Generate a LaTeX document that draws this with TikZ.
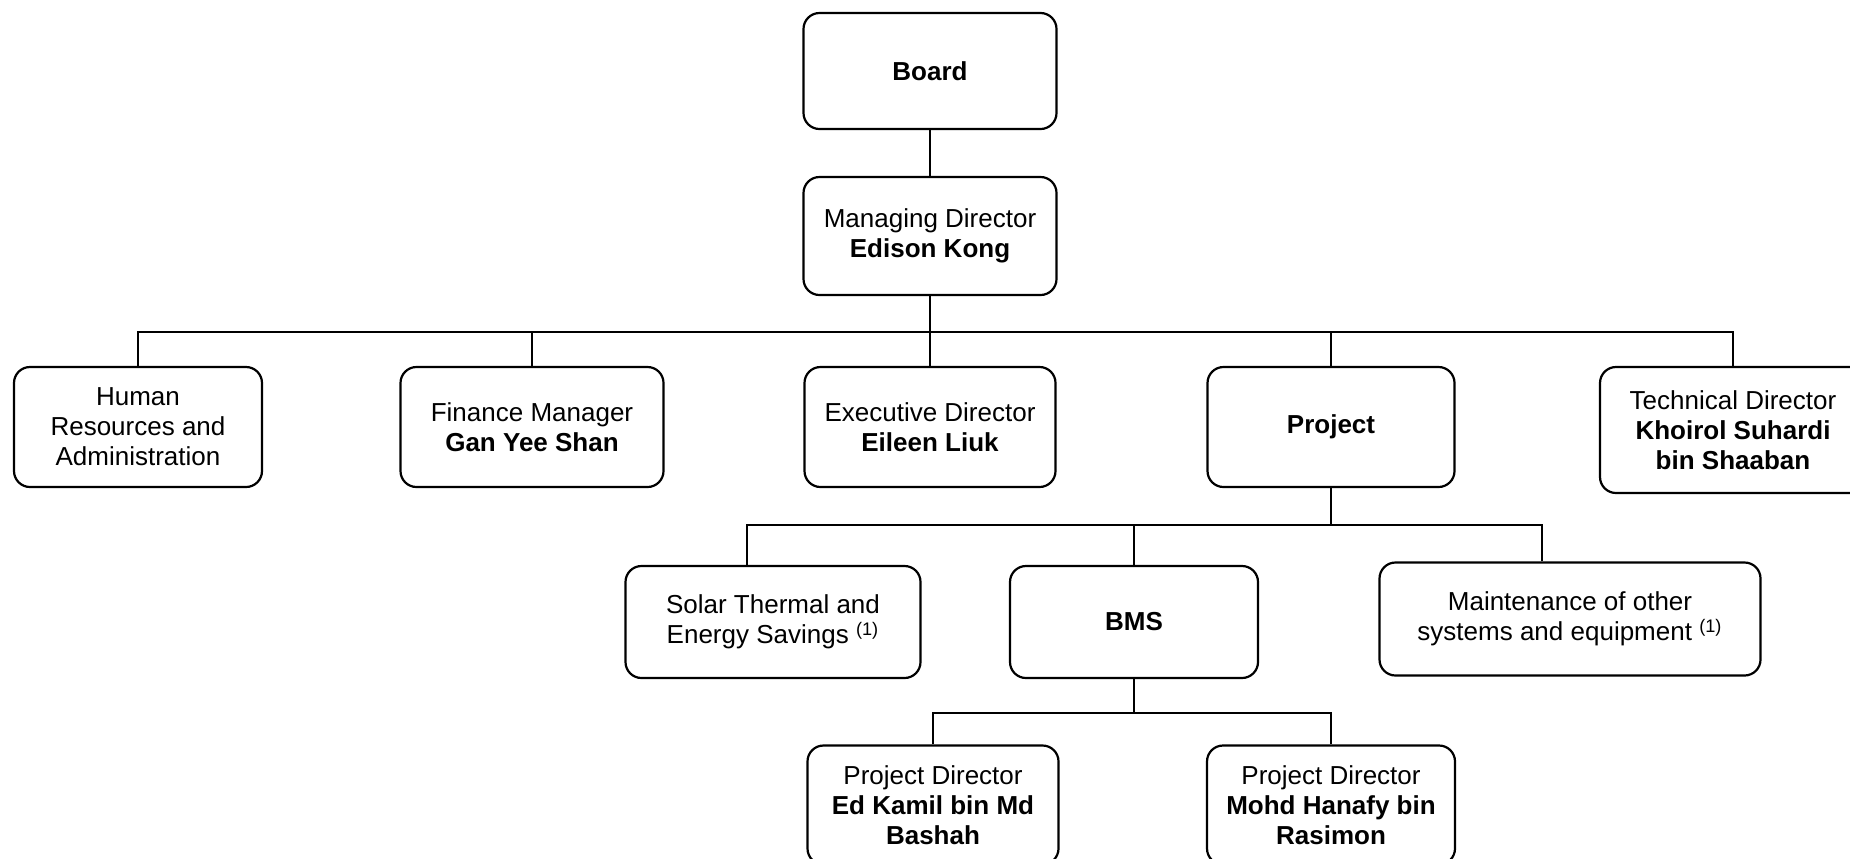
\documentclass[tikz,border=0pt]{standalone}
\usepackage{fontspec}
\setmainfont{Liberation Sans}
\usetikzlibrary{positioning}

\begin{document}
\begin{tikzpicture}[
    x=0.5pt, y=-0.5pt,
    font=\fontsize{13}{15}\selectfont,
    box/.style={rectangle, draw, line width=1.1pt, rounded corners=8pt, align=center, minimum width=126pt, minimum height=60pt, inner sep=2pt},
    link/.style={line width=1pt}
    ]
    \useasboundingbox (0,0) rectangle (1850,858);
    \node[box, minimum width=126.5pt, minimum height=58pt] (board) at (930,71) {\textbf{Board}};
    \node[box, minimum width=126.5pt, minimum height=59pt] (md) at (930,236) {Managing Director\\\textbf{Edison Kong}};

    \node[box, minimum width=124pt] (hr) at (138,427) {Human\\Resources and\\Administration};
    \node[box, minimum width=131.5pt] (fin) at (532,427) {Finance Manager\\\textbf{Gan Yee Shan}};
    \node[box, minimum width=125.5pt] (exec) at (930,427) {Executive Director\\\textbf{Eileen Liuk}};
    \node[box, minimum width=123.5pt] (proj) at (1331,427) {\textbf{Project}};
    \node[box, minimum width=133pt, minimum height=63pt] (tech) at (1733,430) {Technical Director\\\textbf{Khoirol Suhardi}\\\textbf{bin Shaaban}};

    \node[box, minimum width=147.5pt, minimum height=56pt] (solar) at (773,622) {Solar Thermal and\\Energy Savings \textsuperscript{(1)}};
    \node[box, minimum width=124pt, minimum height=56pt] (bms) at (1134,622) {\textbf{BMS}};
    \node[box, minimum width=190.5pt, minimum height=56.5pt] (maint) at (1570,619) {Maintenance of other\\systems and equipment \textsuperscript{(1)}};

    \node[box, minimum width=125.5pt, minimum height=59.5pt] (pda) at (933,805) {Project Director\\\textbf{Ed Kamil bin Md}\\\textbf{Bashah}};
    \node[box, minimum width=124pt, minimum height=59.5pt] (pdb) at (1331,805) {Project Director\\\textbf{Mohd Hanafy bin}\\\textbf{Rasimon}};

    \coordinate (bus1) at (930,332);
    \coordinate (bus2) at (1331,525);
    \coordinate (bus3) at (1134,713);

    \draw[link] (board) -- (md);
    \draw[link] (md) -- (bus1);
    \foreach \n in {hr,fin,exec,proj,tech}
        \draw[link] (\n.north) |- (bus1);
    \draw[link] (proj) -- (bus2);
    \draw[link] ([xshift=-13pt]solar.north) |- (bus2);
    \draw[link] (bms.north) |- (bus2);
    \draw[link] ([xshift=-14pt]maint.north) |- (bus2);
    \draw[link] (bms) -- (bus3);
    \draw[link] (pda.north) |- (bus3);
    \draw[link] (pdb.north) |- (bus3);
\end{tikzpicture}
\end{document}
